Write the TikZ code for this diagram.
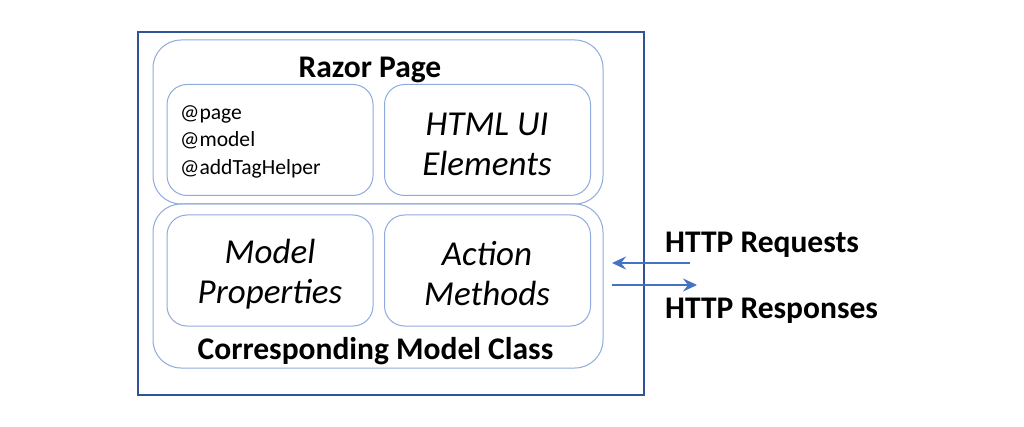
\documentclass[tikz,border=0pt]{standalone}
\usepackage{fontspec}
\setmainfont{Carlito}
\usetikzlibrary{arrows.meta}
\definecolor{outerblue}{HTML}{2F5597}
\definecolor{boxblue}{HTML}{8FAADC}
\definecolor{arrowblue}{HTML}{4472C4}
\tikzset{
  outerbox/.style={draw=outerblue, line width=1.6pt},
  groupbox/.style={draw=boxblue, line width=1pt, rounded corners=28pt, minimum width=450pt, minimum height=164pt, inner sep=0pt},
  itembox/.style={draw=boxblue, line width=1pt, rounded corners=20pt, minimum width=206pt, minimum height=111pt, inner sep=0pt},
  titletext/.style={font=\fontsize{31.5}{36}\selectfont\bfseries, inner sep=0pt},
  bigitalic/.style={font=\fontsize{35}{40}\selectfont\itshape, align=center, inner sep=0pt},
  smalltext/.style={font=\fontsize{21.6}{27.5}\selectfont, align=left, inner sep=0pt},
  httparrow/.style={draw=arrowblue, line width=2.4pt, -{Stealth[length=14pt, width=13pt, inset=5pt]}},
}
\begin{document}
\begin{tikzpicture}[x=1pt, y=-1pt]
\useasboundingbox (0,0) rectangle (1024,427);
\node[outerbox, minimum width=506pt, minimum height=363pt, inner sep=0pt] (outer) at (391,213.5) {};
\node[groupbox] (razor) at (378,122) {};
\node[groupbox] (model) at (378,286) {};
\node[itembox] (directives) at (270,140) {};
\node[itembox] (html) at (487.5,140) {};
\node[itembox] (props) at (270,270.5) {};
\node[itembox] (actions) at (487.5,270.5) {};
\node[titletext] (razortitle) at (370,70) {Razor Page};
\node[titletext] (modeltitle) at (375.5,351) {Corresponding Model Class};
\node[smalltext, anchor=west] (dirtext) at (180,141.5) {@page\\@model\\@addTagHelper};
\node[bigitalic] (htmltext) at (487,144) {HTML UI\\Elements};
\node[bigitalic] (propstext) at (270,274) {Model\\Properties};
\node[bigitalic] (actionstext) at (487,274) {Action\\Methods};
\node[titletext, anchor=west] (req) at (665,245) {HTTP Requests};
\node[titletext, anchor=west] (resp) at (665,311) {HTTP Responses};
\coordinate (reqstart) at (690,263);
\coordinate (reqend) at (612,263);
\coordinate (respstart) at (612,285);
\coordinate (respend) at (697,285);
\draw[httparrow] (reqstart) -- (reqend);
\draw[httparrow] (respstart) -- (respend);
\end{tikzpicture}
\end{document}
